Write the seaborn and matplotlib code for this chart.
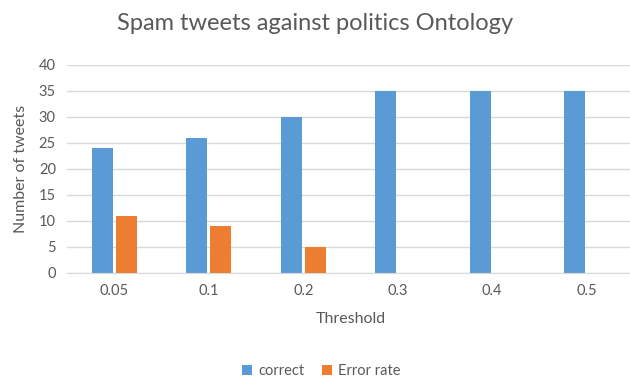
import seaborn as sns
import pandas as pd
import matplotlib.pyplot as plt

thresholds = ["0.05", "0.1", "0.2", "0.3", "0.4", "0.5"]
correct = [24, 26, 30, 35, 35, 35]
error_rate = [11, 9, 5, 0, 0, 0]

series_names = ["correct", "Error rate"]
colors = ["#5B9BD5", "#ED7D31"]
grey = "#595959"


def main():
    sns.set_style("white")
    plt.rcParams['font.family'] = ['Lato', 'DejaVu Sans']

    data = pd.DataFrame({
        "Threshold": thresholds * 2,
        "value": correct + error_rate,
        "series": [series_names[0]] * len(thresholds) + [series_names[1]] * len(thresholds),
    })

    fig = plt.figure(figsize=(6.3, 3.79), dpi=100)
    ax = fig.add_axes([67 / 630, 0.280, 567 / 630, 0.549])

    sns.barplot(data=data, x="Threshold", y="value", hue="series",
                palette=colors, width=0.507, gap=0.125, ax=ax,
                saturation=1, legend=True, edgecolor="none")

    ax.set_xlim(-0.5, 5.5)
    ax.set_ylim(0, 40)
    ax.set_yticks(range(0, 41, 5))
    ax.yaxis.grid(True, color="#D9D9D9", linewidth=1)
    ax.set_axisbelow(True)
    sns.despine(ax=ax, left=True, bottom=False)
    ax.spines["bottom"].set_color("#D9D9D9")
    ax.tick_params(axis="both", length=0, labelsize=10.5, colors=grey, pad=8)

    ax.set_xlabel("Threshold", fontsize=11.5, color=grey, labelpad=10)
    ax.set_ylabel("Number of tweets", fontsize=11.5, color=grey, labelpad=8)
    fig.suptitle("Spam tweets against politics Ontology", fontsize=17,
                 color=grey, y=0.965)

    handles, labels = ax.get_legend_handles_labels()
    ax.legend_.remove()
    fig.legend(handles, labels, loc="center", bbox_to_anchor=(0.51, 0.02),
               ncol=2, frameon=False, fontsize=10.5, labelcolor=grey,
               handlelength=0.7, handleheight=0.7, handletextpad=0.4,
               columnspacing=1.2)

    plt.savefig("out.png", dpi=100)


if __name__ == "__main__":
    main()
